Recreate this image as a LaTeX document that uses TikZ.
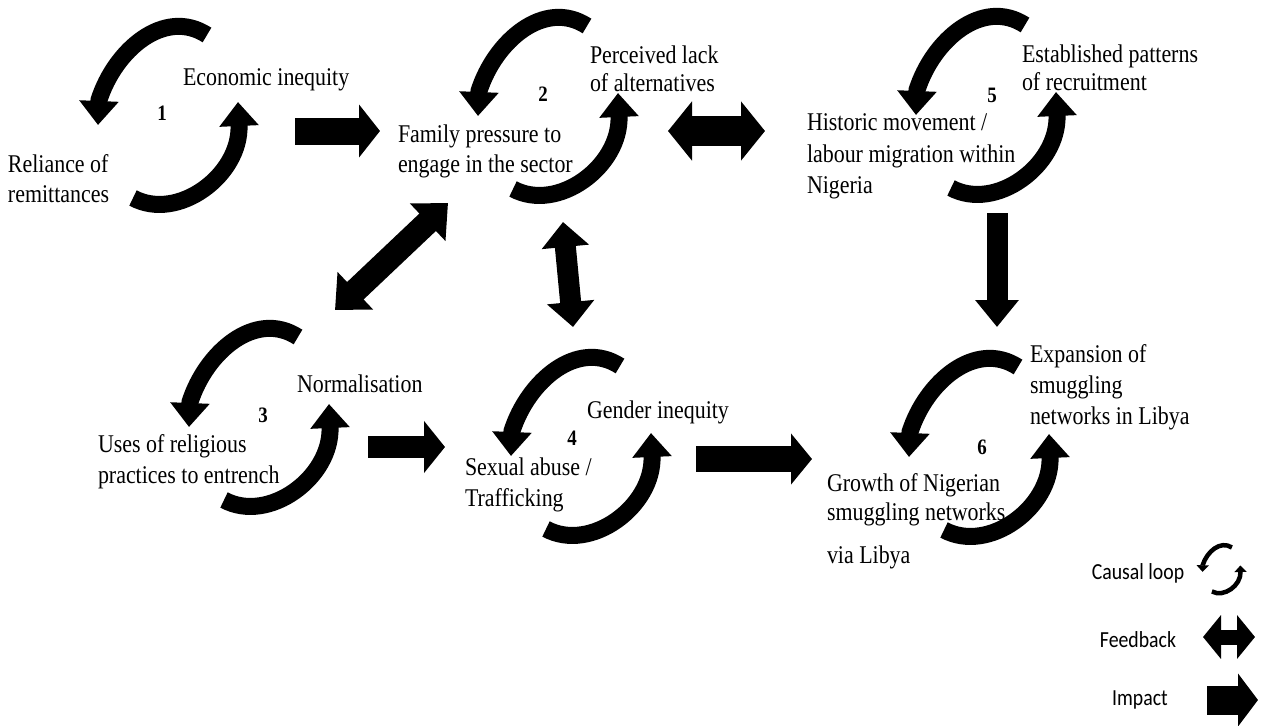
\documentclass[tikz,border=0pt]{standalone}
\usepackage{fontspec}
\setmainfont{Liberation Serif}[FakeStretch=0.86]
\newfontfamily\legendfont{Carlito}[FakeStretch=0.86]
\usetikzlibrary{arrows.meta}
\tikzset{
  looparc/.style={line width=17pt, -{Triangle[width=38pt,length=24pt]}},
  smallarc/.style={line width=4.5pt, -{Triangle[width=12pt,length=6.5pt]}},
  causalloop/.pic={
    \draw[looparc] (207,35) .. controls (164.5,7.5) and (115,50) .. (99,100) -- (98,125);
    \draw[looparc] (133,198) .. controls (178,222) and (241,175) .. (239,125) -- (238,102);
  },
  lbl/.style={anchor=base west, inner sep=0pt, outer sep=0pt, font=\fontsize{25.5}{30}\selectfont},
  num/.style={anchor=center, inner sep=0pt, font=\bfseries\fontsize{22}{22}\selectfont},
  leg/.style={anchor=center, inner sep=0pt, font=\legendfont\fontsize{23}{26}\selectfont},
  impact/.style 2 args={line width=#1, -{Triangle[width=#2,length=21pt]}},
  feedback/.style n args={3}{line width=#1, {Triangle[width=#2,length=#3]}-{Triangle[width=#2,length=#3]}},
}
\begin{document}
\begin{tikzpicture}[x=1pt, y=-1pt]
\useasboundingbox (0,0) rectangle (1262,726);
\fill[white] (0,0) rectangle (1262,726);

% causal loops
\pic at (0,0) {causalloop};
\pic at (380,-9) {causalloop};
\pic at (818,-10) {causalloop};
\pic at (91,302) {causalloop};
\pic at (413,331) {causalloop};
\pic at (811,332) {causalloop};

% loop numbers
\node[num] (n1) at (162,113) {1};
\node[num] (n2) at (543,94) {2};
\node[num] (n5) at (992,95) {5};
\node[num] (n3) at (263,415) {3};
\node[num] (n4) at (572,438) {4};
\node[num] (n6) at (982,447) {6};

% labels loop 1
\node[lbl] (econ) at (183,85) {Economic inequity};
\node[lbl] (relA) at (8,172) {Reliance of};
\node[lbl] (relB) at (8,202) {remittances};
% loop 2
\node[lbl] (percA) at (590,63) {Perceived lack};
\node[lbl] (percB) at (590,91) {of alternatives};
\node[lbl] (famA) at (398,142) {Family pressure to};
\node[lbl] (famB) at (398,172) {engage in the sector};
% loop 5
\node[lbl] (estA) at (1022,62) {Established patterns};
\node[lbl] (estB) at (1022,90) {of recruitment};
\node[lbl] (histA) at (807,130) {Historic movement /};
\node[lbl] (histB) at (807,162) {labour migration within};
\node[lbl] (histC) at (807,193) {Nigeria};
% loop 3
\node[lbl] (norm) at (297,392) {Normalisation};
\node[lbl] (usesA) at (98,452) {Uses of religious};
\node[lbl] (usesB) at (98,483) {practices to entrench};
% loop 4
\node[lbl] (gend) at (587,418) {Gender inequity};
\node[lbl] (sexA) at (465,475) {Sexual abuse /};
\node[lbl] (sexB) at (465,506) {Trafficking};
% loop 6
\node[lbl] (expA) at (1030,362) {Expansion of};
\node[lbl] (expB) at (1030,393) {smuggling};
\node[lbl] (expC) at (1030,424) {networks in Libya};
\node[lbl] (growA) at (827,491) {Growth of Nigerian};
\node[lbl] (growB) at (827,520) {smuggling networks};
\node[lbl] (via) at (827,563) {via Libya};

% connector end points
\coordinate (i1s) at (295,131);  \coordinate (i1e) at (380,131);
\coordinate (f1s) at (668,131);  \coordinate (f1e) at (765,131);
\coordinate (f2s) at (448,203);  \coordinate (f2e) at (335,310);
\coordinate (f3s) at (563,222);  \coordinate (f3e) at (573,327);
\coordinate (i2s) at (997,213);  \coordinate (i2e) at (997,327);
\coordinate (i3s) at (368,447);  \coordinate (i3e) at (445,447);
\coordinate (i4s) at (696,459);  \coordinate (i4e) at (812,459);

\draw[impact={27pt}{52pt}] (i1s) -- (i1e);
\draw[feedback={30pt}{58pt}{24pt}] (f1s) -- (f1e);
\draw[feedback={24pt}{50pt}{28pt}] (f2s) -- (f2e);
\draw[feedback={21pt}{46pt}{25pt}] (f3s) -- (f3e);
\draw[line width=21pt, -{Triangle[width=42pt,length=27pt]}] (i2s) -- (i2e);
\draw[impact={22pt}{51pt}] (i3s) -- (i3e);
\draw[impact={26pt}{50pt}] (i4s) -- (i4e);

% legend
\node[leg] (lgloop) at (1138,573) {Causal loop};
\node[leg] (lgfeed) at (1138,640) {Feedback};
\node[leg] (lgimp) at (1140,700) {Impact};
\draw[smallarc] (1231.9,547.5) .. controls (1220.4,540.0) and (1207.1,551.5) .. (1202.7,565) -- (1202.5,571.8);
\draw[smallarc] (1211.9,591.5) .. controls (1224.1,597.9) and (1241.1,585.3) .. (1240.5,571.8) -- (1240.3,565.5);
\coordinate (lfs) at (1203,637); \coordinate (lfe) at (1255,637);
\coordinate (lis) at (1207,700); \coordinate (lie) at (1258,700);
\draw[feedback={15pt}{43pt}{18pt}] (lfs) -- (lfe);
\draw[line width=29pt, -{Triangle[width=52pt,length=20pt]}] (lis) -- (lie);
\end{tikzpicture}
\end{document}
